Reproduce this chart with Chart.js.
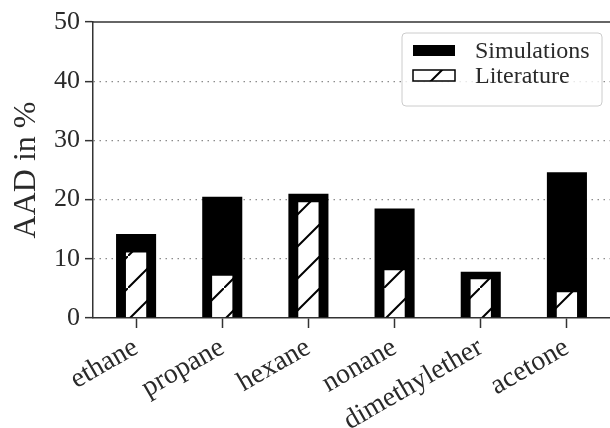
<!DOCTYPE html>
<html>
<head>
<meta charset="utf-8">
<script src="https://cdn.jsdelivr.net/npm/chart.js@4"></script>
<style>
  body { margin: 0; background: #fff; }
  #wrap { width: 610px; height: 428px; position: relative; }
</style>
</head>
<body>
<div id="wrap"><canvas id="aadChart"></canvas></div>
<script>
// data
const categories = ['ethane', 'propane', 'hexane', 'nonane', 'dimethylether', 'acetone'];
const simulations = [14.2, 20.5, 21.0, 18.5, 7.8, 24.6];
const literature = [11.3, 7.4, 19.8, 8.3, 6.8, 4.6];
const yTicks = [0, 10, 20, 30, 40, 50];

const serif = "'Liberation Serif', 'DejaVu Serif', serif";
const textColor = '#2a2a2a';
const axisColor = '#333333';

// hatch pattern "/" for the literature bars
function makeHatch() {
    const c = document.createElement('canvas');
    c.width = 32;
    c.height = 32;
    const g = c.getContext('2d');
    g.fillStyle = '#ffffff';
    g.fillRect(0, 0, 32, 32);
    g.strokeStyle = '#000000';
    g.lineWidth = 2;
    g.beginPath();
    g.moveTo(-4, 36); g.lineTo(36, -4);
    g.stroke();
    return g.createPattern(c, 'repeat');
}
const hatch = makeHatch();

// top spine + boxed legend like matplotlib
const extras = {
    id: 'extras',
    afterDraw(chart) {
        const ctx = chart.ctx;
        const area = chart.chartArea;
        ctx.save();
        ctx.strokeStyle = axisColor;
        ctx.lineWidth = 1.5;
        ctx.beginPath();
        ctx.moveTo(area.left, area.top);
        ctx.lineTo(area.right, area.top);
        ctx.stroke();

        // legend box
        const bx = 402, by = 33, bw = 200, bh = 73;
        ctx.beginPath();
        ctx.roundRect(bx, by, bw, bh, 4);
        ctx.fillStyle = 'rgba(255,255,255,0.8)';
        ctx.fill();
        ctx.strokeStyle = '#cccccc';
        ctx.lineWidth = 1;
        ctx.stroke();

        const ds = chart.data.datasets;
        const rows = [ds[0], ds[1]];
        ctx.font = '24px ' + serif;
        ctx.textBaseline = 'alphabetic';
        ctx.textAlign = 'left';
        rows.forEach((d, i) => {
            const py = 45 + i * 25;
            ctx.fillStyle = d.backgroundColor;
            ctx.fillRect(413, py, 42, 11);
            if (d.borderWidth) {
                ctx.strokeStyle = '#000';
                ctx.lineWidth = 1.5;
                ctx.strokeRect(413, py, 42, 11);
            }
            ctx.fillStyle = textColor;
            ctx.fillText(d.label, 475, py + 13);
        });
        ctx.restore();
    }
};

const ctx = document.getElementById('aadChart').getContext('2d');
const aadChart = new Chart(ctx, {
    type: 'bar',
    data: {
        labels: categories,
        datasets: [{
            label: 'Simulations',
            data: simulations,
            backgroundColor: '#000000',
            borderWidth: 0,
            grouped: false,
            categoryPercentage: 1,
            barPercentage: 0.465,
            order: 1
        },
        {
            label: 'Literature',
            data: literature,
            backgroundColor: hatch,
            borderColor: '#000000',
            borderWidth: 1.5,
            grouped: false,
            categoryPercentage: 1,
            barPercentage: 0.27,
            order: 0
        }]
    },
    options: {
        responsive: true,
        maintainAspectRatio: false,
        animation: false,
        layout: {
            padding: { top: 22, left: 0, right: 0, bottom: 0 }
        },
        plugins: {
            legend: { display: false },
            tooltip: { enabled: false }
        },
        scales: {
            x: {
                offset: true,
                grid: {
                    offset: false,
                    drawOnChartArea: false,
                    drawTicks: true,
                    tickLength: 10,
                    tickColor: axisColor,
                    tickWidth: 1.5
                },
                border: { display: true, color: axisColor, width: 1.5 },
                ticks: {
                    minRotation: 30,
                    maxRotation: 30,
                    padding: 3,
                    color: textColor,
                    font: { family: serif, size: 28 }
                },
                afterFit: (scale) => { scale.height = 110; }
            },
            y: {
                min: 0,
                max: 50,
                afterBuildTicks: (scale) => {
                    scale.ticks = yTicks.map(v => ({ value: v }));
                },
                grid: {
                    color: (c) => (c.tick && (c.tick.value === 0 || c.tick.value === 50)) ? 'rgba(0,0,0,0)' : '#8c8c8c',
                    lineWidth: 1.3,
                    tickLength: 8,
                    tickColor: axisColor,
                    tickWidth: 1.5
                },
                border: { display: true, color: axisColor, width: 1.5, dash: [1.5, 4.5] },
                ticks: {
                    padding: 5,
                    color: textColor,
                    font: { family: serif, size: 26 }
                },
                title: {
                    display: true,
                    text: 'AAD in %',
                    color: textColor,
                    font: { family: serif, size: 32 },
                    padding: { top: 7, bottom: 0 }
                },
                afterFit: (scale) => { scale.width = 93; }
            }
        }
    },
    plugins: [extras]
});
</script>
</body>
</html>
